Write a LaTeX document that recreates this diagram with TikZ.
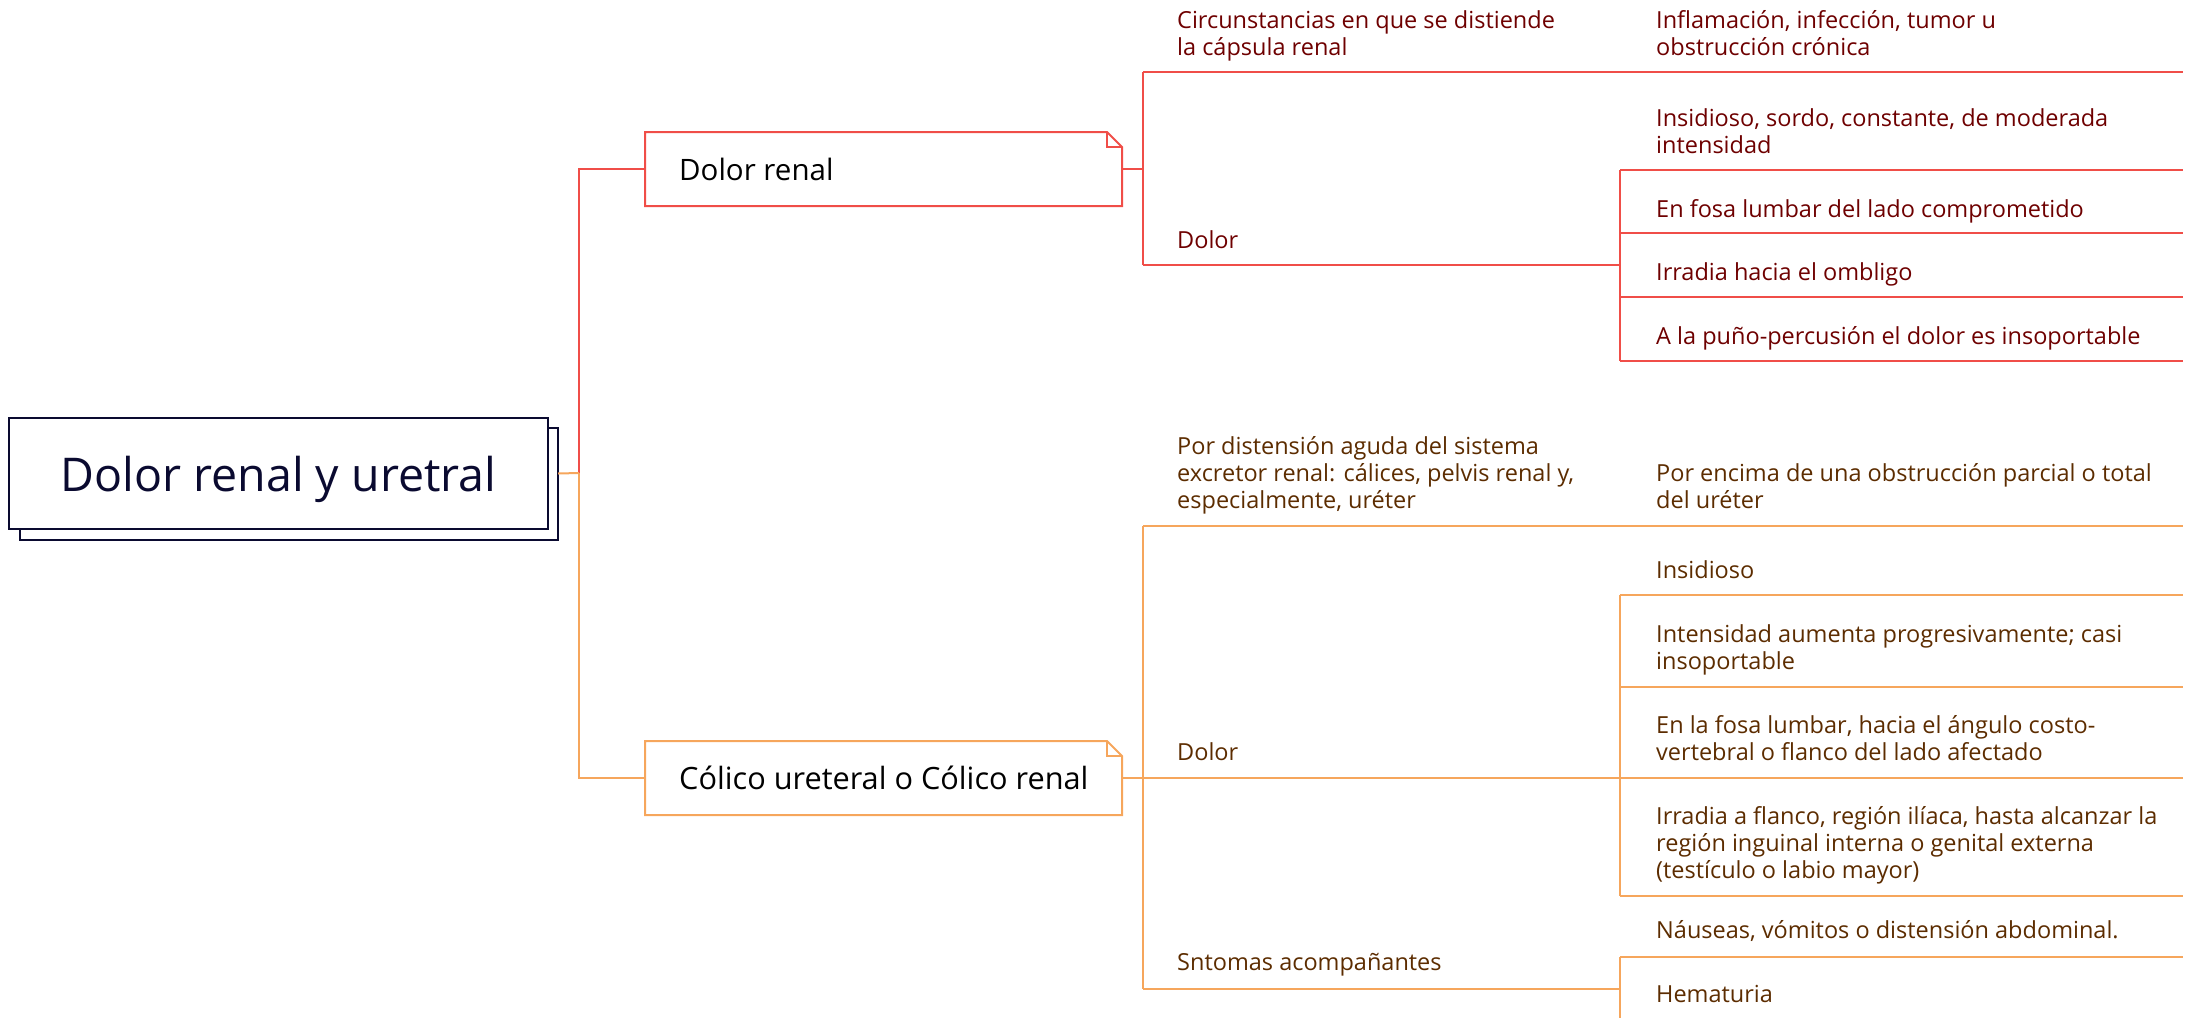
\documentclass[tikz,border=0pt]{standalone}
\usepackage{fontspec}
\setmainfont{Open Sans}
\definecolor{linered}{RGB}{240,78,72}
\definecolor{textred}{RGB}{110,0,0}
\definecolor{lineorange}{RGB}{246,166,92}
\definecolor{textbrown}{RGB}{92,44,0}
\definecolor{navy}{RGB}{10,10,48}
\newcommand\mltext[1]{\begin{tabular}[t]{@{}l@{}}#1\end{tabular}}
\begin{document}
\begin{tikzpicture}[x=1pt,y=-1pt,
  rl/.style={draw=linered, line width=2pt},
  ol/.style={draw=lineorange, line width=2pt},
  smalltxt/.style={anchor=base west, inner sep=0pt, font=\fontsize{23.5}{27}\selectfont},
  rtxt/.style={smalltxt, text=textred},
  otxt/.style={smalltxt, text=textbrown},
  boxn/.style={inner sep=0pt, outer sep=0pt, minimum width=477pt, minimum height=74pt, anchor=north west},
  boxtxt/.style={anchor=base west, inner sep=0pt, font=\fontsize{29.5}{32}\selectfont, text=black},
  rootbox/.style={draw=navy, line width=2pt, fill=white, inner sep=0pt, outer sep=0pt, anchor=north west}
]
\useasboundingbox (0,0) rectangle (2185,1018);

% ---------- root ----------
\node[rootbox, minimum width=538pt, minimum height=112pt] (rootback) at (20,428) {};
\node[rootbox, minimum width=539pt, minimum height=111pt, text=navy,
      font=\fontsize{46.5}{50}\selectfont, text depth=0pt] (root) at (9,418) {Dolor renal y uretral};

% ---------- main topic boxes ----------
\node[boxn] (dr) at (645,132) {};
\node[boxn] (cu) at (645,741) {};
\node[boxtxt] (drt) at (679,180) {Dolor renal};
\node[boxtxt, font=\fontsize{30.7}{33}\selectfont] (cut) at (679,789) {Cólico ureteral o Cólico renal};

\draw[rl] (dr.north west) -- ([xshift=-15pt]dr.north east) -- ([yshift=-15pt]dr.north east) -- (dr.south east) -- (dr.south west) -- cycle;
\draw[rl] ([xshift=-15pt]dr.north east) -- ([xshift=-15pt,yshift=-15pt]dr.north east) -- ([yshift=-15pt]dr.north east);
\draw[ol] (cu.north west) -- ([xshift=-15pt]cu.north east) -- ([yshift=-15pt]cu.north east) -- (cu.south east) -- (cu.south west) -- cycle;
\draw[ol] ([xshift=-15pt]cu.north east) -- ([xshift=-15pt,yshift=-15pt]cu.north east) -- ([yshift=-15pt]cu.north east);

% ---------- root connectors ----------
\coordinate (rj) at (579,473);
\draw[rl] (rj) |- (dr.west);
\draw[ol] (rj) |- (cu.west);
\draw[ol] (root.east -| rootback.east) -- (rj);

% ---------- Dolor renal branch ----------
\coordinate (aj) at (1143,169);
\coordinate (a1) at (1143,72);
\coordinate (a2) at (1143,265);
\coordinate (a2e) at (1620,265);
\coordinate (b1) at (1620,170);
\coordinate (b2) at (1620,233);
\coordinate (b3) at (1620,297);
\coordinate (b4) at (1620,361);
\coordinate (re) at (2183,0);

\draw[rl] (dr.east) -- (aj);
\draw[rl] (a1) -- (a2);
\draw[rl] (a1) -- (a1 -| re);
\draw[rl] (a2) -- (a2e);
\draw[rl] (b1) -- (b4);
\foreach \p in {b1,b2,b3,b4} \draw[rl] (\p) -- (\p -| re);

\node[rtxt] (c1) at (1177,28) {\mltext{Circunstancias en que se distiende\\la cápsula renal}};
\node[rtxt] (c1a) at (1656,28) {\mltext{Inflamación, infección, tumor u\\obstrucción crónica}};
\node[rtxt] (d1) at (1177,248) {\mltext{Dolor}};
\node[rtxt] (d1a) at (1656,126) {\mltext{Insidioso, sordo, constante, de moderada\\intensidad}};
\node[rtxt] (d1b) at (1656,217) {\mltext{En fosa lumbar del lado comprometido}};
\node[rtxt] (d1c) at (1656,280) {\mltext{Irradia hacia el ombligo}};
\node[rtxt] (d1d) at (1656,344) {\mltext{A la puño-percusión el dolor es insoportable}};

% ---------- Cólico branch ----------
\coordinate (cj) at (1143,778);
\coordinate (e1) at (1143,526);
\coordinate (e3) at (1143,989);
\coordinate (e3e) at (1620,989);
\coordinate (f1) at (1620,595);
\coordinate (f2) at (1620,687);
\coordinate (f4) at (1620,896);
\coordinate (g1) at (1620,957);
\coordinate (g2) at (1620,1018);

\draw[ol] (cu.east) -- (cj);
\draw[ol] (e1) -- (e3);
\draw[ol] (e1) -- (e1 -| re);
\draw[ol] (cj) -- (cj -| re);
\draw[ol] (e3) -- (e3e);
\draw[ol] (f1) -- (f4);
\draw[ol] (g1) -- (g2);
\foreach \p in {f1,f2,f4,g1} \draw[ol] (\p) -- (\p -| re);

\node[otxt] (p1) at (1177,454) {\mltext{Por distensión aguda del sistema\\excretor renal: cálices, pelvis renal y,\\especialmente, uréter}};
\node[otxt] (p1a) at (1656,481) {\mltext{Por encima de una obstrucción parcial o total\\del uréter}};
\node[otxt] (d2) at (1177,760) {\mltext{Dolor}};
\node[otxt] (d2a) at (1656,578) {\mltext{Insidioso}};
\node[otxt] (d2b) at (1656,642) {\mltext{Intensidad aumenta progresivamente; casi\\insoportable}};
\node[otxt] (d2c) at (1656,733) {\mltext{En la fosa lumbar, hacia el ángulo costo-\\vertebral o flanco del lado afectado}};
\node[otxt] (d2d) at (1656,824) {\mltext{Irradia a flanco, región ilíaca, hasta alcanzar la\\región inguinal interna o genital externa\\(testículo o labio mayor)}};
\node[otxt] (s2) at (1177,970) {\mltext{Sntomas acompañantes}};
\node[otxt] (s2a) at (1656,938) {\mltext{Náuseas, vómitos o distensión abdominal.}};
\node[otxt] (s2b) at (1656,1002) {\mltext{Hematuria}};
\end{tikzpicture}
\end{document}
